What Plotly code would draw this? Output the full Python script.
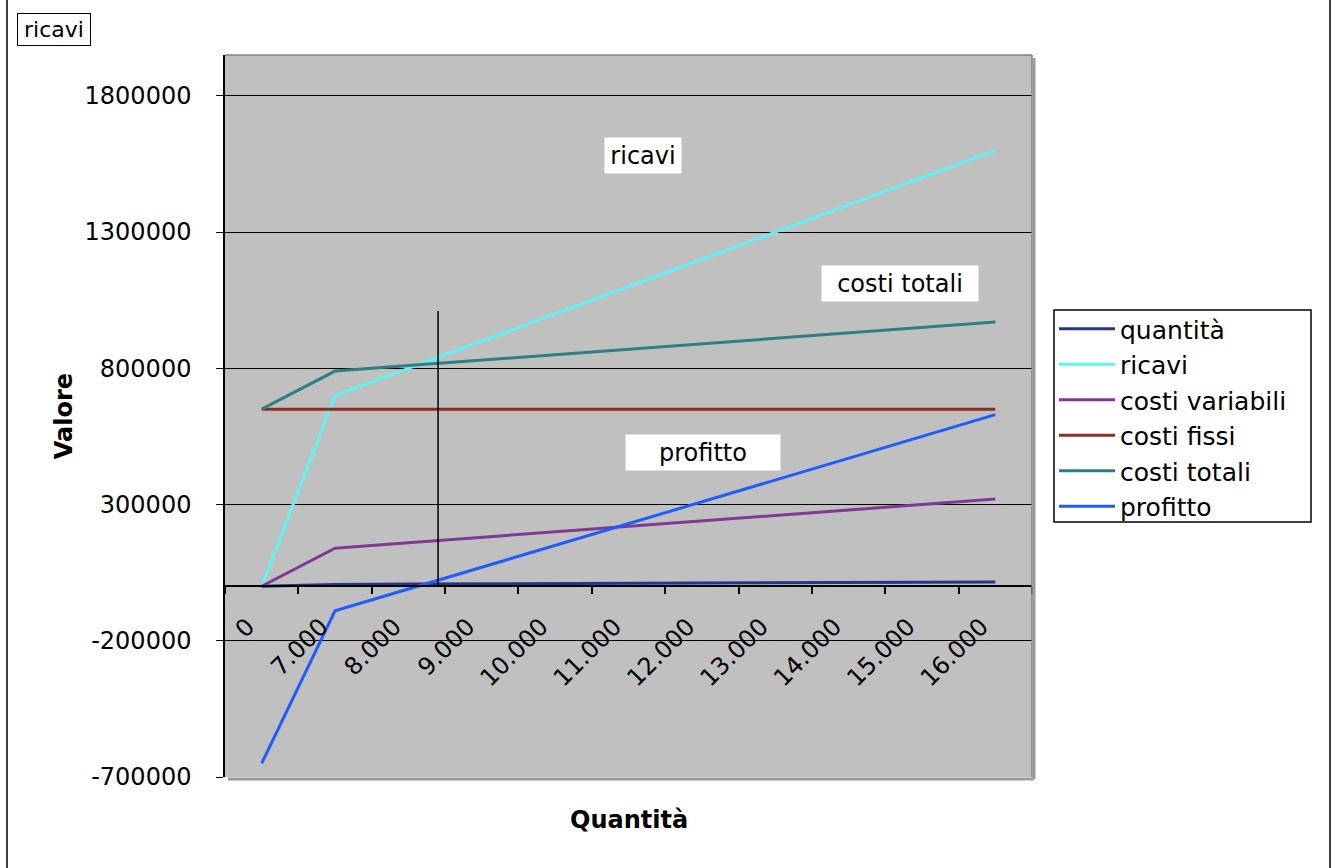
import plotly.graph_objects as go

# Quantità prodotte (etichette dell'asse delle categorie)
categorie = ["0", "7.000", "8.000", "9.000", "10.000", "11.000",
             "12.000", "13.000", "14.000", "15.000", "16.000"]

quantita = [0, 7000, 8000, 9000, 10000, 11000, 12000, 13000, 14000, 15000, 16000]
ricavi = [0, 700000, 800000, 900000, 1000000, 1100000, 1200000,
          1300000, 1400000, 1500000, 1600000]
costi_variabili = [0, 140000, 160000, 180000, 200000, 220000, 240000,
                   260000, 280000, 300000, 320000]
costi_fissi = [650000, 650000, 650000, 650000, 650000, 650000, 650000,
               650000, 650000, 650000, 650000]
costi_totali = [650000, 790000, 810000, 830000, 850000, 870000, 890000,
                910000, 930000, 950000, 970000]
profitto = [-650000, -90000, -10000, 70000, 150000, 230000, 310000,
            390000, 470000, 550000, 630000]

# valori dell'asse verticale
valori_asse = [-700000, -200000, 300000, 800000, 1300000, 1800000]
etichette_asse = [str(v) for v in valori_asse]

serie = [
    ("quantità", quantita, "#24358c"),
    ("ricavi", ricavi, "#5ff4f4"),
    ("costi variabili", costi_variabili, "#7d3a92"),
    ("costi fissi", costi_fissi, "#8b2e22"),
    ("costi totali", costi_totali, "#2e7f80"),
    ("profitto", profitto, "#1f5cff"),
]

Y_MIN, Y_MAX = -700000, 1950000
FONT = "DejaVu Sans"

# Page geometry (pixels)
W, H = 1336, 868
PL, PR, PT, PB = 225, 1032, 55, 777


def px_x(x):
    return (x - PL) / (PR - PL)


def px_y(y):
    return (PB - y) / (PB - PT)


fig = go.Figure()
for nome, valori, colore in serie:
    fig.add_trace(go.Scatter(
        x=categorie, y=valori, name=nome, mode="lines",
        line=dict(color=colore, width=3),
    ))

# the category axis crosses the value axis at zero
zero_pos = (0 - Y_MIN) / (Y_MAX - Y_MIN)

fig.update_layout(
    width=W, height=H,
    margin=dict(l=PL, r=W - PR, t=PT, b=H - PB),
    paper_bgcolor="white",
    plot_bgcolor="#c0c0c0",
    font=dict(family=FONT, size=24, color="black"),
    legend=dict(
        x=px_x(1054), y=px_y(306), xanchor="left", yanchor="top",
        bgcolor="rgba(0,0,0,0)", borderwidth=0,
        font=dict(family=FONT, size=25, color="black"),
        itemwidth=56,
    ),
    xaxis=dict(
        type="category", range=[-0.5, len(categorie) - 0.5],
        anchor="free", position=zero_pos,
        showline=True, linecolor="black", linewidth=1.5,
        ticks="outside", ticklen=7, tickcolor="black", tickwidth=1.5,
        tickson="boundaries", tickangle=-45,
        ticklabelshift=-14, ticklabelstandoff=16,
        showgrid=False, zeroline=False,
        tickfont=dict(family=FONT, size=24, color="black"),
    ),
    yaxis=dict(
        range=[Y_MIN, Y_MAX], tickmode="array",
        tickvals=valori_asse, ticktext=etichette_asse,
        showgrid=True, gridcolor="black", gridwidth=1,
        showline=True, linecolor="black", linewidth=1.5,
        ticks="outside", ticklen=7, tickcolor="black",
        zeroline=False, ticklabelstandoff=20,
        tickfont=dict(family=FONT, size=24, color="black"),
        title=dict(text="<b>Valore</b>", font=dict(family=FONT, size=24), standoff=5),
    ),
)

# legend frame
fig.add_shape(type="rect", xref="paper", yref="paper",
              x0=px_x(1054), x1=px_x(1311), y0=px_y(522), y1=px_y(310),
              fillcolor="white", line=dict(color="black", width=1.5))

# plot-area frame with a soft shadow on the right and bottom
fig.add_shape(type="line", xref="paper", yref="paper", x0=0, x1=1, y0=1, y1=1,
              line=dict(color="#808080", width=1.5))
fig.add_shape(type="line", xref="paper", yref="paper", x0=1, x1=1, y0=0, y1=1,
              line=dict(color="#808080", width=1.5))
fig.add_shape(type="line", xref="paper", yref="paper",
              x0=px_x(PR + 2), x1=px_x(PR + 2), y0=px_y(PB + 2), y1=px_y(PT + 3),
              line=dict(color="#9a9a9a", width=3))
fig.add_shape(type="line", xref="paper", yref="paper",
              x0=px_x(PL + 3), x1=px_x(PR + 2), y0=px_y(PB + 2), y1=px_y(PB + 2),
              line=dict(color="#9a9a9a", width=3))

# outer sheet borders
for xb in (7, 1330):
    fig.add_shape(type="line", xref="paper", yref="paper",
                  x0=px_x(xb), x1=px_x(xb), y0=px_y(H), y1=px_y(0),
                  line=dict(color="black", width=1.5))

# marker line near the break-even quantity
fig.add_shape(type="line", xref="x", yref="y", x0=2.404, x1=2.404,
              y0=0, y1=1010000, line=dict(color="black", width=1.5))

# series labels inside the plot
for testo, xi, yv, w in [("ricavi", 5.2, 1582000, 72),
                         ("costi totali", 8.7, 1113000, 152),
                         ("profitto", 6.016, 492000, 150)]:
    fig.add_annotation(x=xi, y=yv, xref="x", yref="y", text=testo, showarrow=False,
                       bgcolor="white", width=w, height=31, borderpad=2,
                       font=dict(family=FONT, size=24, color="black"))

# chart caption box, top left
fig.add_annotation(x=px_x(54), y=px_y(29.5), xref="paper", yref="paper",
                   text="ricavi", showarrow=False, xanchor="center", yanchor="middle",
                   bgcolor="white", bordercolor="black", borderwidth=1,
                   width=72, height=31, borderpad=0,
                   font=dict(family=FONT, size=22, color="black"))

# category-axis title below the plot area
fig.add_annotation(x=0.5, y=px_y(820), xref="paper", yref="paper",
                   text="<b>Quantità</b>", showarrow=False,
                   xanchor="center", yanchor="middle",
                   font=dict(family=FONT, size=24, color="black"))

fig.write_html("out.html")
